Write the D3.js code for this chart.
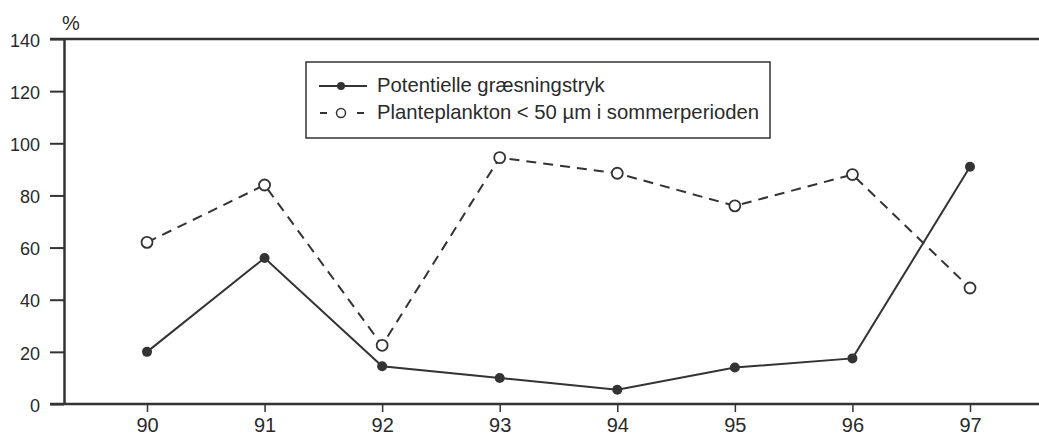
<!DOCTYPE html>
<html><head><meta charset="utf-8">
<script src="https://cdn.jsdelivr.net/npm/d3@7"></script>
<style>body{margin:0;background:#fff}svg{display:block}text{font-family:"Liberation Sans",Arial,sans-serif;fill:#2a2a2a}</style>
</head><body><svg id="c" width="1039" height="435"></svg>
<script>
const years = ["90","91","92","93","94","95","96","97"];
const grazing = [20,56,14.5,10,5.5,14,17.5,91];
const plankton = [62,84,22.5,94.5,88.5,76,88,44.5];
const yTicks = [0,20,40,60,80,100,120,140];
const seriesNames = ["Potentielle græsningstryk","Planteplankton < 50 µm i sommerperioden"];

const svg = d3.select("#c");
const ink = "#333";
const x = d3.scalePoint().domain(years).range([147,970]);
const y = d3.scaleLinear().domain([0,140]).range([404,39]);

// top frame line
svg.append("line").attr("x1",50).attr("x2",1039).attr("y1",y(140)).attr("y2",y(140)).attr("stroke",ink).attr("stroke-width",2.5);

const yAxis = svg.append("g").attr("transform","translate(64,0)")
  .call(d3.axisLeft(y).tickValues(yTicks).tickSize(14).tickPadding(10).tickSizeOuter(0));
yAxis.select(".domain").attr("stroke",ink).attr("stroke-width",2.5);
yAxis.selectAll(".tick line").attr("stroke",ink).attr("stroke-width",2);
yAxis.selectAll("text").style("font-size","18px").attr("dy","0.4em").attr("fill","#2a2a2a");

const xAxis = svg.append("g").attr("transform","translate(0,404)")
  .call(d3.axisBottom(x).tickSize(8).tickPadding(6).tickSizeOuter(0));
xAxis.select(".domain").attr("d","M50,0H1039").attr("stroke",ink).attr("stroke-width",2.5);
xAxis.selectAll(".tick line").attr("stroke",ink).attr("stroke-width",1.5);
xAxis.selectAll("text").style("font-size","20px").attr("fill","#2a2a2a");

svg.append("text").attr("x",62).attr("y",30).style("font-size","20px").text("%");

const line = d3.line().x((d,i)=>x(years[i])).y(d=>y(d));
svg.append("path").datum(plankton).attr("d",line).attr("fill","none").attr("stroke",ink).attr("stroke-width",2).attr("stroke-dasharray","10,7");
svg.append("path").datum(grazing).attr("d",line).attr("fill","none").attr("stroke",ink).attr("stroke-width",2);
svg.selectAll(".pg").data(grazing).join("circle").attr("cx",(d,i)=>x(years[i])).attr("cy",d=>y(d)).attr("r",5).attr("fill",ink);
svg.selectAll(".pp").data(plankton).join("circle").attr("cx",(d,i)=>x(years[i])).attr("cy",d=>y(d)).attr("r",5.5).attr("fill","#fff").attr("stroke",ink).attr("stroke-width",1.8);

// legend
const lg = svg.append("g");
lg.append("rect").attr("x",306).attr("y",62).attr("width",464).attr("height",76).attr("fill","#fff").attr("stroke",ink).attr("stroke-width",1.5);
lg.append("line").attr("x1",319).attr("x2",367).attr("y1",86).attr("y2",86).attr("stroke",ink).attr("stroke-width",2);
lg.append("circle").attr("cx",341).attr("cy",86).attr("r",4).attr("fill",ink);
lg.append("line").attr("x1",320).attr("x2",327).attr("y1",113).attr("y2",113).attr("stroke",ink).attr("stroke-width",2);
lg.append("line").attr("x1",357).attr("x2",364).attr("y1",113).attr("y2",113).attr("stroke",ink).attr("stroke-width",2);
lg.append("circle").attr("cx",341).attr("cy",113).attr("r",4.5).attr("fill","#fff").attr("stroke",ink).attr("stroke-width",1.5);
lg.selectAll(".lt").data(seriesNames).join("text").attr("x",377).attr("y",(d,i)=>92+i*27).style("font-size","20.3px").text(d=>d);
</script></body></html>
